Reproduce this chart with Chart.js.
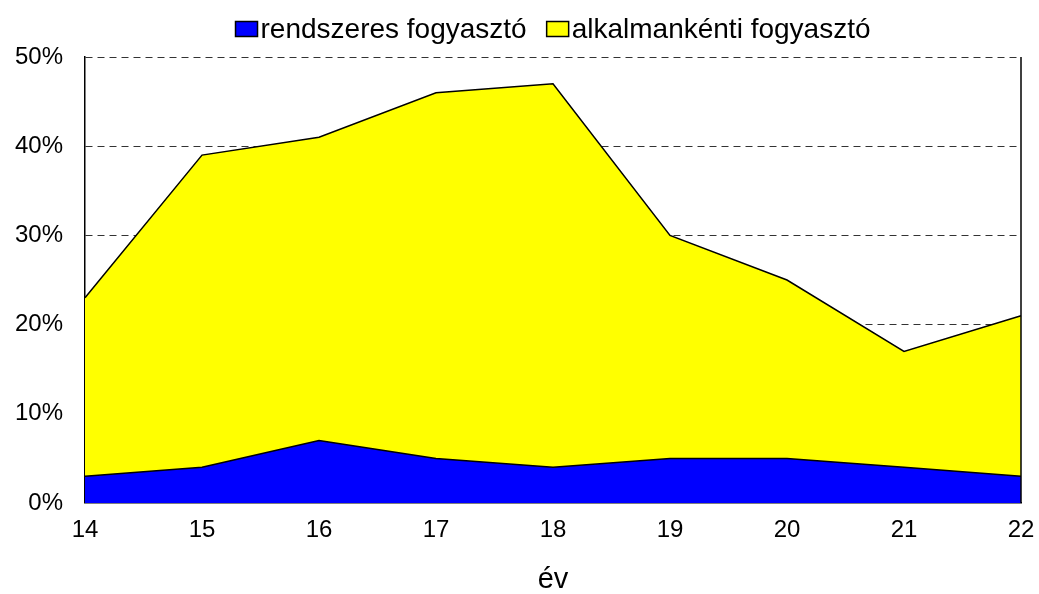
<!DOCTYPE html>
<html>
<head>
<meta charset="utf-8">
<script src="https://cdn.jsdelivr.net/npm/chart.js@4.4.1/dist/chart.umd.min.js"></script>
<style>
   html, body { margin: 0; padding: 0; background: #fff; }
   #wrap { width: 1039px; height: 594px; position: relative; }
</style>
</head>
<body>
<div id="wrap"><canvas id="chartArea"></canvas></div>
<script>
const years = ['14', '15', '16', '17', '18', '19', '20', '21', '22'];
const rendszeres = [3, 4, 7, 5, 4, 5, 5, 4, 3];
const alkalmankenti = [20, 35, 34, 41, 43, 25, 20, 13, 18];
const yTicks = [0, 10, 20, 30, 40, 50];

const FONT = "'Liberation Sans', Arial, sans-serif";

// keretvonal a rajzterület jobb oldalán
const rightBorder = {
   id: 'rightBorder',
   afterDraw: function (chart) {
      const a = chart.chartArea;
      const ctx = chart.ctx;
      ctx.save();
      ctx.strokeStyle = '#000';
      ctx.lineWidth = 1.5;
      ctx.beginPath();
      ctx.moveTo(a.right, a.top);
      ctx.lineTo(a.right, a.bottom);
      ctx.stroke();
      ctx.restore();
   }
};

// jelmagyarázat: kis téglalap közvetlenül a szöveg előtt, a rajzterület fölé középre
const topLegend = {
   id: 'topLegend',
   afterDraw: function (chart) {
      const ctx = chart.ctx;
      const a = chart.chartArea;
      const datasets = chart.data.datasets;
      ctx.save();
      ctx.font = '28px ' + FONT;
      ctx.textBaseline = 'middle';
      const boxW = 22, boxH = 15, gap = 3, between = 20;
      const widths = datasets.map(ds => boxW + gap + ctx.measureText(ds.label).width);
      const total = widths.reduce((s, w) => s + w, 0) + between * (widths.length - 1);
      let x = (a.left + a.right) / 2 - total / 2;
      const y = 29;
      datasets.forEach((ds, i) => {
         ctx.fillStyle = ds.backgroundColor;
         ctx.fillRect(x, y - boxH / 2, boxW, boxH);
         ctx.strokeStyle = '#000';
         ctx.lineWidth = 1.5;
         ctx.strokeRect(x, y - boxH / 2, boxW, boxH);
         ctx.fillStyle = '#000';
         ctx.fillText(ds.label, x + boxW + gap, y + 1);
         x += widths[i] + between;
      });
      ctx.restore();
   }
};

const ctx = document.getElementById('chartArea').getContext('2d');
const chart = new Chart(ctx, {
   type: 'line',
   data: {
      labels: years,
      datasets: [{
         label: 'rendszeres fogyasztó',
         data: rendszeres,
         backgroundColor: '#0000ff',
         borderColor: '#000',
         borderWidth: 1.5,
         pointRadius: 0,
         fill: 'origin',
         tension: 0,
      }, {
         label: 'alkalmankénti fogyasztó',
         data: alkalmankenti,
         backgroundColor: '#ffff00',
         borderColor: '#000',
         borderWidth: 1.5,
         pointRadius: 0,
         fill: '-1',
         tension: 0,
      }]
   },
   options: {
      responsive: true,
      maintainAspectRatio: false,
      animation: false,
      layout: { padding: { left: 0, right: 18, top: 57, bottom: 0 } },
      scales: {
         x: {
            offset: false,
            grid: { display: false, drawTicks: false },
            border: { color: '#000', width: 1.5 },
            ticks: {
               color: '#000',
               padding: 13,
               maxRotation: 0,
               font: { family: FONT, size: 24 },
            },
            title: {
               display: true,
               text: 'év',
               color: '#000',
               padding: { top: 0, bottom: -3 },
               font: { family: FONT, size: 29 },
            },
            afterFit: function (scale) {
               scale.height = 91;
               scale.paddingLeft = 0;
               scale.paddingRight = 0;
            },
         },
         y: {
            stacked: true,
            min: 0,
            max: 50,
            afterBuildTicks: function (scale) {
               scale.ticks = yTicks.map(v => ({ value: v }));
            },
            grid: {
               drawTicks: false,
               color: '#333',
               lineWidth: function (c) { return c.tick && c.tick.value === 0 ? 0 : 1; },
            },
            border: { color: '#000', width: 1.5, dash: [7, 5], display: true },
            ticks: {
               color: '#000',
               padding: 22,
               font: { family: FONT, size: 24 },
               callback: function (value) { return value + '%'; },
            },
            afterFit: function (scale) { scale.width = 85; },
         }
      },
      plugins: {
         legend: { display: false },
         tooltip: { enabled: false },
      }
   },
   plugins: [rightBorder, topLegend]
});
</script>
</body>
</html>
